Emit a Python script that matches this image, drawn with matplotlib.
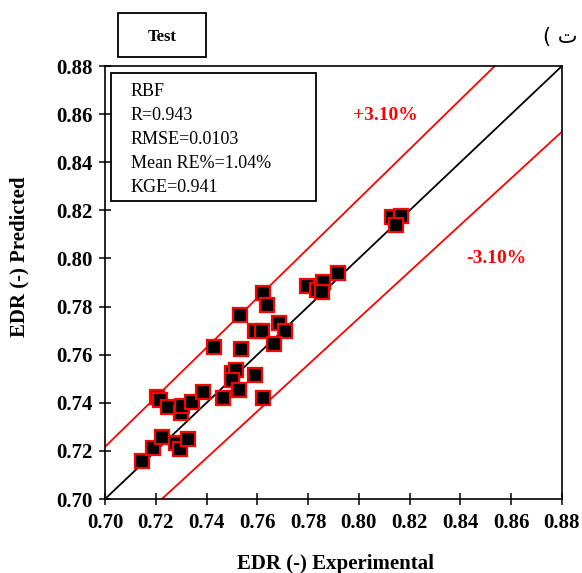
import numpy as np
import matplotlib.pyplot as plt
from matplotlib.patches import Rectangle

plt.rcParams['font.family'] = ['Liberation Serif', 'DejaVu Sans']

# experimental vs predicted EDR, test set
edr_exp = [0.7145, 0.7190, 0.7224, 0.7204, 0.7216, 0.7250, 0.7299, 0.7303, 0.7341, 0.7386,
           0.7280, 0.7296, 0.7325, 0.7463, 0.7430, 0.7532, 0.7535, 0.7499, 0.7515, 0.7502,
           0.7528, 0.7591, 0.7624, 0.7637, 0.7590, 0.7620, 0.7685, 0.7709, 0.7666, 0.7624,
           0.7797, 0.7836, 0.7860, 0.7856, 0.7919, 0.8131, 0.8164, 0.8148]
edr_pred = [0.7159, 0.7211, 0.7259, 0.7425, 0.7411, 0.7384, 0.7356, 0.7388, 0.7404, 0.7443,
            0.7234, 0.7209, 0.7251, 0.7419, 0.7631, 0.7765, 0.7623, 0.7525, 0.7536, 0.7495,
            0.7453, 0.7515, 0.7857, 0.7805, 0.7698, 0.7698, 0.7730, 0.7698, 0.7644, 0.7419,
            0.7887, 0.7869, 0.7901, 0.7862, 0.7938, 0.8173, 0.8176, 0.8139]

band = 0.031  # +-3.10 % band
stats = ['RBF', 'R=0.943', 'RMSE=0.0103', 'Mean RE%=1.04%', 'KGE=0.941']
ticks = np.arange(0.70, 0.881, 0.02)

fig = plt.figure(figsize=(5.82, 5.73), dpi=100)
ax = fig.add_axes([0.1804, 0.1291, 0.7852, 0.7557])

xx = np.array([0.60, 1.00])
ax.plot(xx, xx, color='black', lw=1.3, zorder=2)
ax.plot(xx, xx * (1 + band), color='red', lw=1.3, zorder=2)
ax.plot(xx, xx * (1 - band), color='red', lw=1.3, zorder=2)

ax.plot(edr_exp, edr_pred, ls='none', marker='s', ms=10, mfc='black',
        mec='red', mew=1.6, zorder=3)

ax.set_xlim(0.70, 0.88)
ax.set_ylim(0.70, 0.88)
ax.set_xticks(ticks)
ax.set_yticks(ticks)
ax.set_xticklabels(['%.2f' % t for t in ticks], fontsize=15, fontweight='bold')
ax.set_yticklabels(['%.2f' % t for t in ticks], fontsize=15, fontweight='bold')
ax.tick_params(axis='x', direction='inout', length=8, width=1.1, pad=6)
ax.tick_params(axis='y', direction='inout', length=8, width=1.1, pad=5)
for s in ax.spines.values():
    s.set_linewidth(1.2)

ax.set_xlabel('EDR (-) Experimental', fontsize=15, fontweight='bold')
ax.set_ylabel('EDR (-) Predicted', fontsize=15, fontweight='bold')
ax.xaxis.set_label_coords(0.505, -0.126)
ax.yaxis.set_label_coords(-0.166, 0.56)

# statistics box
ax.add_patch(Rectangle((0.0125, 0.6889), 0.4492, 0.2949, transform=ax.transAxes,
                       fill=False, ec='black', lw=1.3, zorder=4))
for i, s in enumerate(stats):
    ax.text(0.0562, 0.9406 - i * 0.0555, s, transform=ax.transAxes, fontsize=13,
            va='center', ha='left', zorder=5)

ax.text(0.614, 0.886, '+3.10%', transform=ax.transAxes, color='red', fontsize=14,
        fontweight='bold', ha='center', va='center')
ax.text(0.856, 0.555, '-3.10%', transform=ax.transAxes, color='red', fontsize=14,
        fontweight='bold', ha='center', va='center')

# "Test" tag above the axes
fig.patches.append(Rectangle((0.2027, 0.9005), 0.1512, 0.0768, transform=fig.transFigure,
                             fill=False, ec='black', lw=1.3))
fig.text(0.2784, 0.935, 'Test', fontsize=12, fontweight='bold', ha='center', va='center')
fig.text(0.962, 0.936, '( ت', fontsize=15, ha='center', va='center', family=['DejaVu Sans'])

fig.savefig('out.png', dpi=100)
